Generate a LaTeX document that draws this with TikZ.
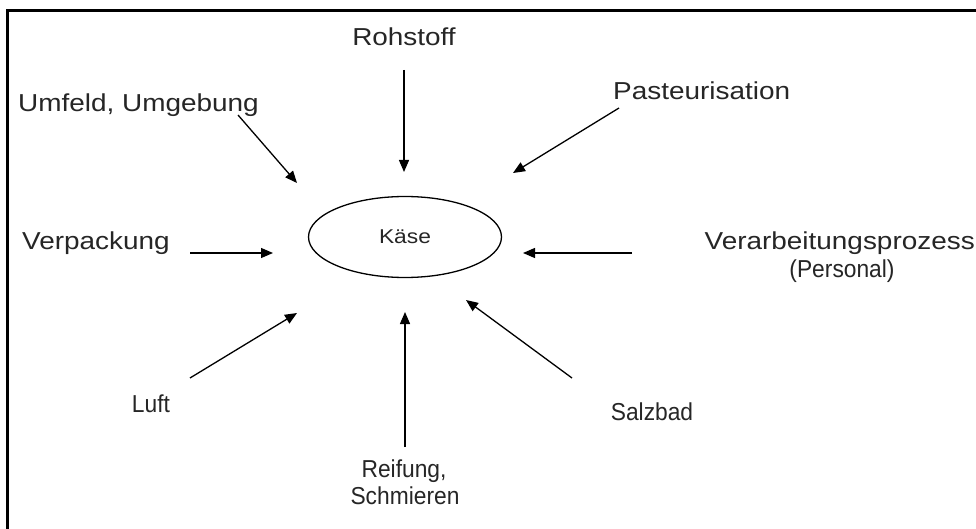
\documentclass[tikz,border=0pt]{standalone}
\usepackage{fontspec}
\setmainfont[FakeStretch=1.14]{Liberation Sans}
\newfontfamily\narrowfont[FakeStretch=0.93]{Liberation Sans}
\usetikzlibrary{arrows.meta,shapes.geometric}
\begin{document}
\begin{tikzpicture}[x=1pt,y=-1pt,
  lbl/.style={inner sep=0pt, font=\fontsize{24.5}{28}\selectfont, text=black!85},
  nlbl/.style={inner sep=0pt, font=\narrowfont\fontsize{24.5}{28}\selectfont, text=black!85},
  inarrow/.style={line width=1.3pt, -{Triangle[length=12pt,width=10pt]}},
  frameline/.style={line width=3pt, line join=miter}]
\useasboundingbox (0,0) rectangle (976,529);
\fill[white] (0,0) rectangle (976,529);
% frame along the left and top edges
\draw[frameline] (7.5,529) -- (7.5,10.5) -- (976,10.5);

% central ellipse
\node[draw, ellipse, line width=1.3pt, minimum width=193pt, minimum height=81pt,
      inner sep=0pt, font=\fontsize{20}{24}\selectfont, text=black!85] (kaese) at (405,237) {Käse};

% labels
\node[lbl, anchor=base] (rohstoff) at (404,46) {Rohstoff};
\node[lbl, anchor=base west] (umfeld) at (18,112) {Umfeld, Umgebung};
\node[lbl, anchor=base west] (pasteur) at (613,100) {Pasteurisation};
\node[lbl, anchor=base west] (verpack) at (22,250) {Verpackung};
\node[lbl, anchor=base east] (verarb) at (975,250) {Verarbeitungsprozess};
\node[nlbl, anchor=base] (personal) at (842,277) {(Personal)};
\node[nlbl, anchor=base] (luft) at (151,412) {Luft};
\node[nlbl, anchor=base] (salzbad) at (652,420) {Salzbad};
\node[nlbl, anchor=base] (reifung) at (404,477) {Reifung,};
\node[nlbl, anchor=base] (schmieren) at (405,504) {Schmieren};

% arrow end points
\coordinate (rS) at (404,70);  \coordinate (rE) at (404,172);
\coordinate (uS) at (238,115); \coordinate (uE) at (297,183);
\coordinate (pS) at (619,108); \coordinate (pE) at (513,173);
\coordinate (vS) at (190,253); \coordinate (vE) at (273,253);
\coordinate (aS) at (632,253); \coordinate (aE) at (523,253);
\coordinate (lS) at (190,378); \coordinate (lE) at (297,313);
\coordinate (fS) at (405,447); \coordinate (fE) at (405,312);
\coordinate (sS) at (572,378); \coordinate (sE) at (466,300);

% influences pointing at the cheese
\draw[inarrow] (rS) -- (rE);
\draw[inarrow] (uS) -- (uE);
\draw[inarrow] (pS) -- (pE);
\draw[inarrow] (vS) -- (vE);
\draw[inarrow] (aS) -- (aE);
\draw[inarrow] (lS) -- (lE);
\draw[inarrow] (fS) -- (fE);
\draw[inarrow] (sS) -- (sE);
\end{tikzpicture}
\end{document}
